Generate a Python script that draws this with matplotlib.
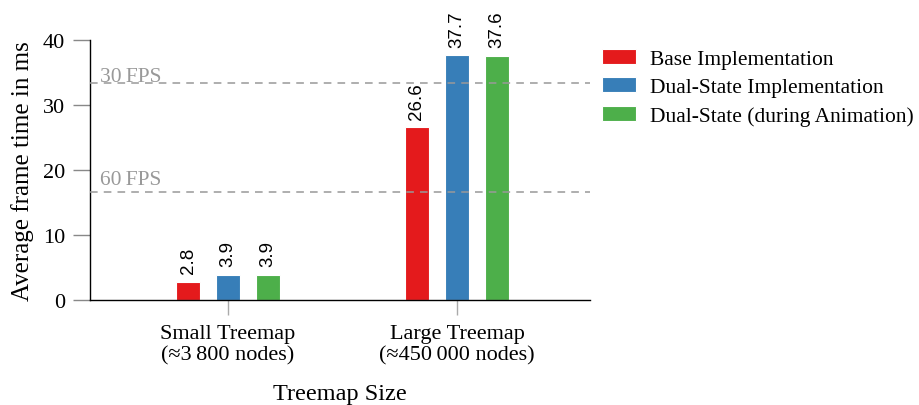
import matplotlib
matplotlib.use("Agg")
import matplotlib.pyplot as plt
from matplotlib.patches import Patch
import numpy as np

categories = ["Small Treemap\n(\u22483\u2009800 nodes)", "Large Treemap\n(\u2248450\u2009000 nodes)"]
series_names = ["Base Implementation", "Dual-State Implementation", "Dual-State (during Animation)"]
base_impl = [2.8, 26.6]
dual_state = [3.9, 37.7]
dual_anim = [3.9, 37.6]
fps_lines = [("30\u2009FPS", 1000 / 30), ("60\u2009FPS", 1000 / 60)]
colors = ["#e41a1c", "#377eb8", "#4daf4a"]

serif = ["Liberation Serif", "DejaVu Serif"]
plt.rcParams["font.family"] = serif

fig = plt.figure(figsize=(9.19, 4.06), dpi=100)
ax = fig.add_axes([0.0979, 0.2586, 0.5441, 0.6404])

x = np.arange(len(categories))
offset = 0.1747
width = 0.105
series = [base_impl, dual_state, dual_anim]
for i, (vals, c) in enumerate(zip(series, colors)):
    pos = x + (i - 1) * offset
    ax.bar(pos, vals, width=width, color=c, edgecolor="white", linewidth=0.8, zorder=2)
    for p, v in zip(pos, vals):
        ax.annotate(f"{v:.1f}", (p, v), xytext=(0, 6), textcoords="offset points",
                    rotation=90, ha="center", va="bottom", fontsize=13.5,
                    family=["Liberation Sans", "DejaVu Sans"], color="black")

# reference-line captions sit just above their dashed line (offset in points)
caption_offsets = [2, 8]
for (label, val), off in zip(fps_lines, caption_offsets):
    ax.axhline(val, color="#999999", linestyle=(0, (5, 4)), linewidth=1.1, zorder=3)
    ax.annotate(label, (-0.56, val), xytext=(0, off * 0.72), textcoords="offset points",
                color="#999999", fontsize=15.5, ha="left", va="baseline")

ax.set_xlim(-0.603, 1.581)
ax.set_ylim(0, 40)
ax.set_yticks([0, 10, 20, 30, 40])
ax.set_xticks(x)
ax.set_xticklabels(categories, fontsize=16, linespacing=1.15)
ax.tick_params(axis="y", labelsize=16, length=12, color="#888888", width=1, pad=6)
ax.tick_params(axis="x", length=11, color="#aaaaaa", width=1, pad=6)
for s in ["top", "right"]:
    ax.spines[s].set_visible(False)
for s in ["left", "bottom"]:
    ax.spines[s].set_linewidth(1.0)
    ax.spines[s].set_color("black")

ax.set_ylabel("Average frame time in ms", fontsize=18, labelpad=6)
ax.set_xlabel("Treemap Size", fontsize=17.5, labelpad=14)

handles = [Patch(facecolor=c, edgecolor="white", linewidth=0.8) for c in colors]
fig.legend(handles, series_names, loc="upper left", bbox_to_anchor=(0.655, 0.878),
           frameon=False, fontsize=15.5, handlelength=1.6, handleheight=0.7,
           handletextpad=0.65, labelspacing=0.4, borderaxespad=0, borderpad=0)

fig.savefig("out.png", dpi=100)
